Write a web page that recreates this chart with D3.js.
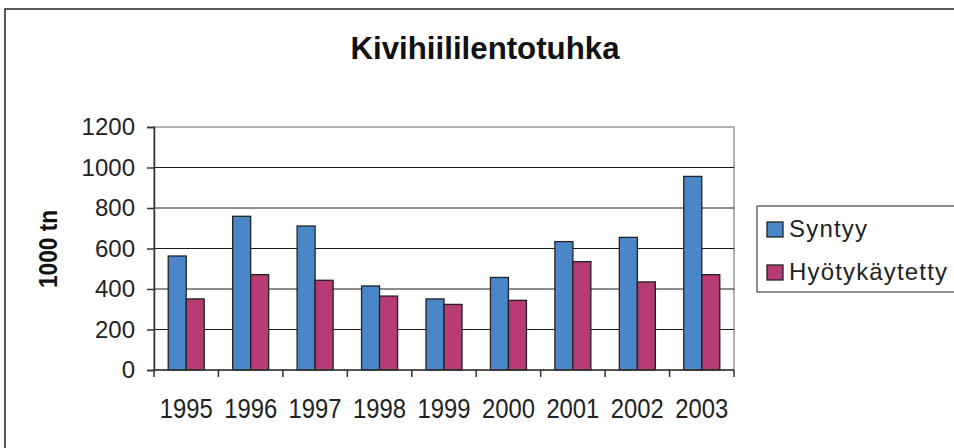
<!DOCTYPE html>
<html>
<head>
<meta charset="utf-8">
<script src="https://cdnjs.cloudflare.com/ajax/libs/d3/7.8.5/d3.min.js"></script>
<style>
  body { margin: 0; background: #fff; }
  svg { display: block; font-family: "Liberation Sans", Arial, sans-serif; }
</style>
</head>
<body>
<div id="chart"></div>
<script>
var years = ["1995", "1996", "1997", "1998", "1999", "2000", "2001", "2002", "2003"];
var syntyy = [563, 759, 711, 415, 351, 457, 634, 655, 956];
var hyotykaytetty = [351, 471, 443, 365, 324, 344, 535, 435, 471];
var seriesNames = ["Syntyy", "Hyötykäytetty"];
var yTicks = [0, 200, 400, 600, 800, 1000, 1200];

(function(){
    var width = 954;
    var height = 448;
    var colors = ["#4a87c9", "#b63a73"];

    var svg = d3.select("#chart")
        .append("svg")
        .attr("width", width)
        .attr("height", height);

    // outer frame (right/bottom run off the picture)
    svg.append("rect")
        .attr("x", 5).attr("y", 9)
        .attr("width", 1000).attr("height", 500)
        .attr("fill", "none")
        .attr("stroke", "#222")
        .attr("stroke-width", 1.5);

    var plot = { left: 154, top: 127, right: 734, bottom: 370 };

    var x = d3.scaleBand()
        .domain(years)
        .range([plot.left, plot.right]);

    var xInner = d3.scaleBand()
        .domain(seriesNames)
        .range([0, 36]);

    var y = d3.scaleLinear()
        .domain([0, 1200])
        .range([plot.bottom, plot.top]);

    // plot area border
    svg.append("rect")
        .attr("x", plot.left).attr("y", plot.top)
        .attr("width", plot.right - plot.left)
        .attr("height", plot.bottom - plot.top)
        .attr("fill", "none")
        .attr("stroke", "#999")
        .attr("stroke-width", 1.5);

    // gridlines
    svg.selectAll(".grid")
        .data(yTicks.filter(function(d){ return d > 0 && d < 1200; }))
        .enter().append("line")
        .attr("class", "grid")
        .attr("x1", plot.left).attr("x2", plot.right)
        .attr("y1", function(d){ return y(d); })
        .attr("y2", function(d){ return y(d); })
        .attr("stroke", "#1a1a1a")
        .attr("stroke-width", 1);

    var table = years.map(function(yr, i){
        return { year: yr, values: [syntyy[i], hyotykaytetty[i]] };
    });

    var groups = svg.selectAll(".yr")
        .data(table)
        .enter().append("g")
        .attr("class", "yr")
        .attr("transform", function(d){
            return "translate(" + (x(d.year) + (x.bandwidth() - 36) / 2) + ",0)";
        });

    groups.selectAll("rect")
        .data(function(d){
            return d.values.map(function(v, i){ return { name: seriesNames[i], value: v, i: i }; });
        })
        .enter().append("rect")
        .attr("x", function(d){ return xInner(d.name); })
        .attr("y", function(d){ return y(d.value); })
        .attr("width", xInner.bandwidth())
        .attr("height", function(d){ return plot.bottom - y(d.value); })
        .attr("fill", function(d){ return colors[d.i]; })
        .attr("stroke", "#222")
        .attr("stroke-width", 1.3);

    // y axis
    var yAxis = svg.append("g")
        .attr("transform", "translate(" + plot.left + ",0)")
        .call(d3.axisLeft(y).tickValues(yTicks).tickFormat(d3.format("d")).tickSize(7).tickPadding(12));
    yAxis.select(".domain").attr("stroke", "#333").attr("stroke-width", 1.5);
    yAxis.selectAll(".tick line").attr("stroke", "#333").attr("stroke-width", 1.5);
    yAxis.selectAll("text")
        .attr("font-size", "24px")
        .attr("fill", "#222")
        .attr("font-family", "Liberation Sans, Arial, sans-serif");

    // x axis: ticks at band edges
    var xAxis = svg.append("g")
        .attr("transform", "translate(0," + plot.bottom + ")");
    xAxis.append("line")
        .attr("x1", plot.left).attr("x2", plot.right)
        .attr("stroke", "#333").attr("stroke-width", 1.5);
    var edges = years.map(function(yr){ return x(yr); }).concat([plot.right]);
    xAxis.selectAll(".edge")
        .data(edges)
        .enter().append("line")
        .attr("class", "edge")
        .attr("x1", function(d){ return d; })
        .attr("x2", function(d){ return d; })
        .attr("y1", 0).attr("y2", 7)
        .attr("stroke", "#333").attr("stroke-width", 1.5);
    xAxis.selectAll(".xl")
        .data(years)
        .enter().append("text")
        .attr("class", "xl")
        .attr("x", function(d){ return x(d) + x.bandwidth() / 2; })
        .attr("y", 48)
        .attr("text-anchor", "middle")
        .attr("font-size", "27px")
        .attr("textLength", 53)
        .attr("lengthAdjust", "spacingAndGlyphs")
        .attr("fill", "#222")
        .text(function(d){ return d; });

    // title
    svg.append("text")
        .attr("x", 485).attr("y", 59)
        .attr("text-anchor", "middle")
        .attr("font-size", "32px")
        .attr("font-weight", "bold")
        .attr("textLength", 269)
        .attr("lengthAdjust", "spacingAndGlyphs")
        .attr("fill", "#111")
        .text("Kivihiililentotuhka");

    // y axis title
    svg.append("text")
        .attr("transform", "translate(57,249) rotate(-90)")
        .attr("text-anchor", "middle")
        .attr("font-size", "26px")
        .attr("font-weight", "bold")
        .attr("textLength", 78)
        .attr("lengthAdjust", "spacingAndGlyphs")
        .attr("fill", "#111")
        .text("1000 tn");

    // legend
    var legend = svg.append("g");
    legend.append("rect")
        .attr("x", 757).attr("y", 206)
        .attr("width", 300).attr("height", 86)
        .attr("fill", "none")
        .attr("stroke", "#444")
        .attr("stroke-width", 1.2);
    var textLens = [78, 158];
    var items = legend.selectAll(".li")
        .data(seriesNames)
        .enter().append("g")
        .attr("class", "li")
        .attr("transform", function(d, i){ return "translate(767," + (222 + i * 43) + ")"; });
    items.append("rect")
        .attr("width", 16).attr("height", 15)
        .attr("fill", function(d, i){ return colors[i]; })
        .attr("stroke", "#222")
        .attr("stroke-width", 1.3);
    items.append("text")
        .attr("x", 22).attr("y", 15)
        .attr("font-size", "24px")
        .attr("textLength", function(d, i){ return textLens[i]; })
        .attr("lengthAdjust", "spacing")
        .attr("fill", "#222")
        .text(function(d){ return d; });
})();
</script>
</body>
</html>
